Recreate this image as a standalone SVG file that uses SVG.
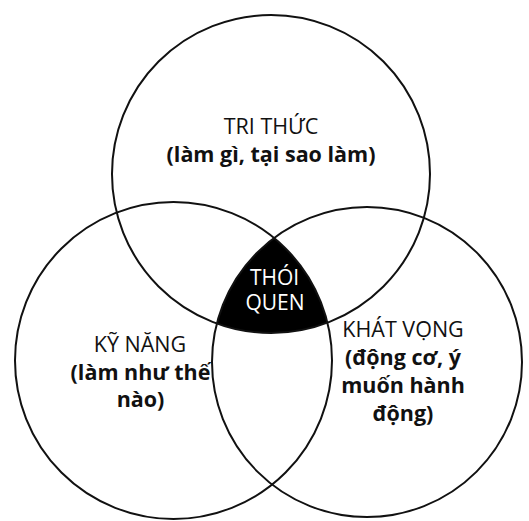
<svg xmlns="http://www.w3.org/2000/svg" width="529" height="521" viewBox="0 0 529 521">
<style>
.c{fill:none;stroke:#111;stroke-width:2}
.t{font-family:"Open Sans","Noto Sans",sans-serif;font-size:21.5px;fill:#111;text-anchor:middle}
.b{font-family:"Open Sans","Noto Sans",sans-serif;font-size:21.5px;font-weight:bold;fill:#111;text-anchor:middle}
.w{fill:#fff;font-size:21px}
</style>
<defs>
<clipPath id="clipL"><circle cx="173.5" cy="360.5" r="158.5"/></clipPath>
<clipPath id="clipR"><circle cx="367" cy="362" r="155"/></clipPath>
</defs>
<rect width="529" height="521" fill="#fff"/>
<g id="habit-fill" clip-path="url(#clipL)"><g clip-path="url(#clipR)"><circle cx="271" cy="174" r="159" fill="#000"/></g></g>
<g id="connectors"></g>
<g id="knowledge">
<circle class="c" cx="271" cy="174" r="159"/>
<text class="t" x="271" y="134">TRI THỨC</text>
<text class="b" x="271" y="162">(làm gì, tại sao làm)</text>
</g>
<g id="skill">
<circle class="c" cx="173.5" cy="360.5" r="158.5"/>
<text class="t" x="140" y="352">KỸ NĂNG</text>
<text class="b" x="140.5" y="380">(làm như thế</text>
<text class="b" x="140.5" y="407">nào)</text>
</g>
<g id="desire">
<circle class="c" cx="367" cy="362" r="155"/>
<text class="t" x="403" y="337">KHÁT VỌNG</text>
<text class="b" x="403" y="365">(động cơ, ý</text>
<text class="b" x="403" y="393">muốn hành</text>
<text class="b" x="403" y="421">động)</text>
</g>
<g id="habit">
<text class="t w" x="274.5" y="285">THÓI</text>
<text class="t w" x="275" y="310">QUEN</text>
</g>
</svg>
